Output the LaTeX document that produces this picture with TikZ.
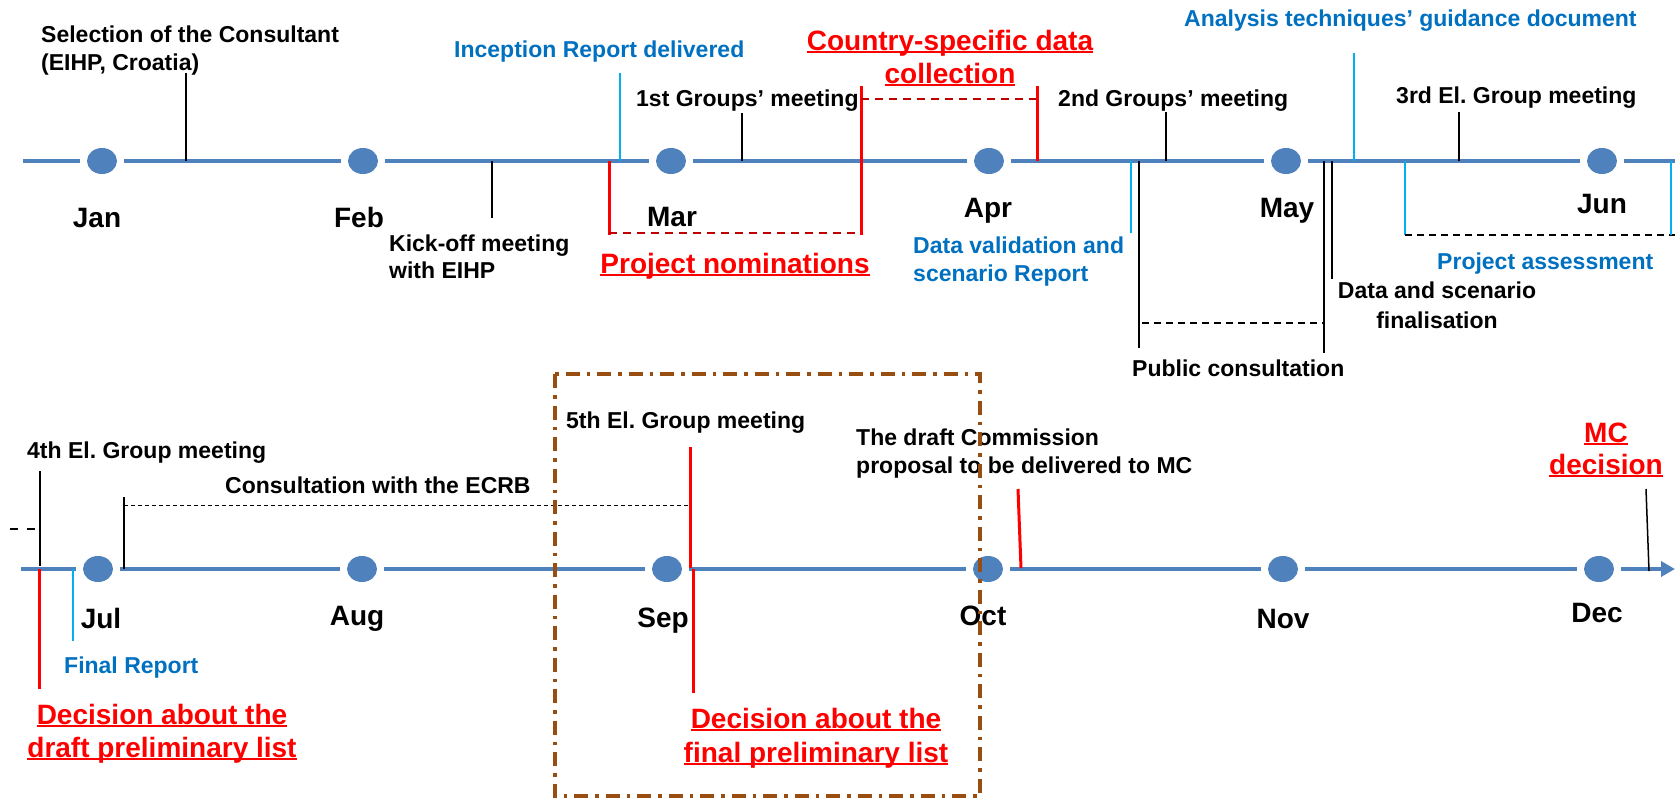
\documentclass[tikz,border=0pt]{standalone}
\usepackage{fontspec}
\setmainfont{Liberation Sans}
\usetikzlibrary{shapes.geometric,arrows.meta}
\definecolor{tlblue}{RGB}{79,129,189}
\definecolor{txtblue}{RGB}{0,112,192}
\definecolor{cyanb}{RGB}{0,176,240}
\definecolor{dred}{RGB}{192,0,0}
\definecolor{brownb}{RGB}{152,78,16}
\newsavebox{\ulbx}
\newcommand\redul[1]{\sbox{\ulbx}{#1}\rlap{\rule[-3pt]{\wd\ulbx}{1.8pt}}\usebox{\ulbx}}
\frenchspacing
\begin{document}
\begin{tikzpicture}[x=1pt,y=-1pt,
  tl/.style={draw=tlblue,line width=4pt},
  gapc/.style={fill=white,circle,minimum size=44pt,inner sep=0pt},
  dotn/.style={ellipse,fill=tlblue,minimum width=30pt,minimum height=26pt,inner sep=0pt},
  mon/.style={font=\fontsize{28}{30}\selectfont\bfseries,inner sep=0pt,anchor=base},
  lab/.style={font=\fontsize{23}{26}\selectfont\bfseries,inner sep=0pt,anchor=base west},
  clab/.style={lab,anchor=base},
  blab/.style={lab,text=txtblue},
  rlab/.style={font=\fontsize{28}{30}\selectfont\bfseries,inner sep=0pt,anchor=base,text=red},
  btick/.style={draw=black,line width=1.5pt},
  rtick/.style={draw=red,line width=3pt},
  ctick/.style={draw=cyanb,line width=2.5pt},
  bdash/.style={draw=black,line width=2pt,dash pattern=on 7pt off 5pt},
  rdash/.style={draw=dred,line width=2pt,dash pattern=on 8pt off 6pt},
  thdash/.style={draw=black,line width=1pt,dash pattern=on 4pt off 3pt},
  brownbox/.style={draw=brownb,line width=3.8pt,dash pattern=on 14pt off 7pt on 3.5pt off 7pt},
]
\useasboundingbox (0,0) rectangle (1675,798);

% ---------- timelines ----------
\coordinate (ta) at (23,161);
\coordinate (tb) at (1692,161);
\coordinate (ba) at (21,569);
\coordinate (bb) at (1675,569);
\draw[tl,-{Triangle[length=14pt,width=15pt]}] (ta) -- (tb);
\draw[tl,-{Triangle[length=14pt,width=15pt]}] (ba) -- (bb);

% gaps and dots, top row
\foreach \n/\x in {Jan/102,Feb/363,Mar/671,Apr/989,May/1286,Jun/1602}{
  \node[gapc] (g\n) at (\x,161) {};
  \node[dotn] (d\n) at (\x,161) {};
}
% gaps and dots, bottom row
\foreach \n/\x in {Jul/98,Aug/362,Sep/667,Oct/988,Nov/1283,Dec/1599}{
  \node[gapc] (g\n) at (\x,569) {};
  \node[dotn] (d\n) at (\x,569) {};
}

% ---------- month labels ----------
\node[mon] (mJan) at (97,227) {Jan};
\node[mon] (mFeb) at (359,227) {Feb};
\node[mon] (mMar) at (672,226) {Mar};
\node[mon] (mApr) at (988,217) {Apr};
\node[mon] (mMay) at (1287,217) {May};
\node[mon] (mJun) at (1602,213) {Jun};
\node[mon] (mJul) at (101,628) {Jul};
\node[mon] (mAug) at (357,625) {Aug};
\node[mon] (mSep) at (663,627) {Sep};
\node[mon] (mOct) at (983,625) {Oct};
\node[mon] (mNov) at (1283,628) {Nov};
\node[mon] (mDec) at (1597,622) {Dec};

% ---------- top row events ----------
\coordinate (selA) at (186,161); \coordinate (selB) at (186,73);
\draw[btick] (selA) -- (selB);
\node[lab] (sel1) at (41,42) {Selection of the Consultant};
\node[lab] (sel2) at (41,70) {(EIHP, Croatia)};

\coordinate (koA) at (492,161); \coordinate (koB) at (492,218);
\draw[btick] (koA) -- (koB);
\node[lab] (ko1) at (389,251) {Kick-off meeting};
\node[lab] (ko2) at (389,278) {with EIHP};

\coordinate (inA) at (620,161); \coordinate (inB) at (620,73);
\draw[ctick] (inA) -- (inB);
\node[blab] (inc) at (454,57) {Inception Report delivered};

\coordinate (pnA) at (609,161); \coordinate (pnB) at (609,235);
\coordinate (pnC) at (609,233); \coordinate (pnD) at (861,233);
\coordinate (pnE) at (861,235); \coordinate (pnF) at (861,86);
\draw[rtick] (pnA) -- (pnB);
\draw[rdash] (pnC) -- (pnD);
\draw[rtick] (pnE) -- (pnF);
\node[rlab] (pn) at (735,273) {\redul{Project nominations}};

\coordinate (g1A) at (742,161); \coordinate (g1B) at (742,113);
\draw[btick] (g1A) -- (g1B);
\node[lab] (g1) at (636,106) {1st Groups’ meeting};

\coordinate (csA) at (861,99); \coordinate (csB) at (1037,99);
\coordinate (csC) at (1037,86); \coordinate (csD) at (1037,161);
\draw[rdash] (csA) -- (csB);
\draw[rtick] (csC) -- (csD);
\node[rlab] (cs1) at (950,50) {\redul{Country-specific data}};
\node[rlab] (cs2) at (950,83) {\redul{collection}};

\coordinate (g2A) at (1166,161); \coordinate (g2B) at (1166,112);
\draw[btick] (g2A) -- (g2B);
\node[lab] (g2) at (1058,106) {2nd Groups’ meeting};

\coordinate (dvA) at (1131,161); \coordinate (dvB) at (1131,233);
\draw[ctick] (dvA) -- (dvB);
\node[blab] (dv1) at (913,253) {Data validation and};
\node[blab] (dv2) at (913,281) {scenario Report};

\coordinate (pcA) at (1139,161); \coordinate (pcB) at (1139,348);
\coordinate (pcC) at (1324,161); \coordinate (pcD) at (1324,353);
\coordinate (pcE) at (1142,323); \coordinate (pcF) at (1324,323);
\draw[btick] (pcA) -- (pcB);
\draw[btick] (pcC) -- (pcD);
\draw[bdash] (pcE) -- (pcF);
\node[lab] (pc) at (1132,376) {Public consultation};

\coordinate (dsA) at (1332,161); \coordinate (dsB) at (1332,279);
\draw[btick] (dsA) -- (dsB);
\node[clab] (ds1) at (1437,298) {Data and scenario};
\node[clab] (ds2) at (1437,328) {finalisation};

\coordinate (atA) at (1354,161); \coordinate (atB) at (1354,53);
\draw[ctick] (atA) -- (atB);
\node[blab] (at) at (1184,26) {Analysis techniques’ guidance document};

\coordinate (g3A) at (1459,161); \coordinate (g3B) at (1459,112);
\draw[btick] (g3A) -- (g3B);
\node[lab] (g3) at (1396,103) {3rd El. Group meeting};

\coordinate (paA) at (1405,161); \coordinate (paB) at (1405,235);
\coordinate (paC) at (1405,235); \coordinate (paD) at (1685,235);
\coordinate (paE) at (1671,161); \coordinate (paF) at (1671,235);
\draw[ctick] (paA) -- (paB);
\draw[bdash] (paC) -- (paD);
\draw[ctick] (paE) -- (paF);
\node[blab] (pa) at (1437,269) {Project assessment};

% ---------- bottom row events ----------
\coordinate (paG) at (10,529); \coordinate (paH) at (37,529);
\draw[draw=black,line width=2pt,dash pattern=on 8pt off 9pt] (paG) -- (paH);

\coordinate (g4A) at (40,566); \coordinate (g4B) at (40,471);
\draw[btick] (g4A) -- (g4B);
\node[lab] (g4) at (27,458) {4th El. Group meeting};

\coordinate (ddA) at (39,569); \coordinate (ddB) at (39,689);
\draw[rtick] (ddA) -- (ddB);
\node[rlab] (dd1) at (162,724) {\redul{Decision about the}};
\node[rlab] (dd2) at (162,757) {\redul{draft preliminary list}};

\coordinate (frA) at (73,569); \coordinate (frB) at (73,641);
\draw[ctick] (frA) -- (frB);
\node[blab] (fr) at (64,673) {Final Report};

\coordinate (ecA) at (124,569); \coordinate (ecB) at (124,497);
\coordinate (ecC) at (124,505); \coordinate (ecD) at (688,505);
\draw[btick] (ecA) -- (ecB);
\draw[thdash] (ecC) -- (ecD);
\node[lab] (ec) at (225,493) {Consultation with the ECRB};

\coordinate (g5A) at (690,568); \coordinate (g5B) at (690,447);
\draw[rtick] (g5A) -- (g5B);
\node[lab] (g5) at (566,428) {5th El. Group meeting};

\coordinate (dfA) at (693,569); \coordinate (dfB) at (693,693);
\draw[rtick] (dfA) -- (dfB);
\node[rlab] (df1) at (816,728) {\redul{Decision about the}};
\node[rlab] (df2) at (816,762) {\redul{final preliminary list}};

\coordinate (dcA) at (1021,568); \coordinate (dcB) at (1018,489);
\draw[rtick] (dcA) -- (dcB);
\node[lab] (dc1) at (856,445) {The draft Commission};
\node[lab] (dc2) at (856,473) {proposal to be delivered to MC};

\coordinate (mcA) at (1649,571); \coordinate (mcB) at (1646,489);
\draw[btick] (mcA) -- (mcB);
\node[rlab] (mc1) at (1606,442) {\redul{MC}};
\node[rlab] (mc2) at (1606,474) {\redul{decision}};

% ---------- brown frame ----------
\coordinate (frm1) at (555,374); \coordinate (frm2) at (980,796);
\draw[brownbox] (frm1) rectangle (frm2);
\end{tikzpicture}
\end{document}
